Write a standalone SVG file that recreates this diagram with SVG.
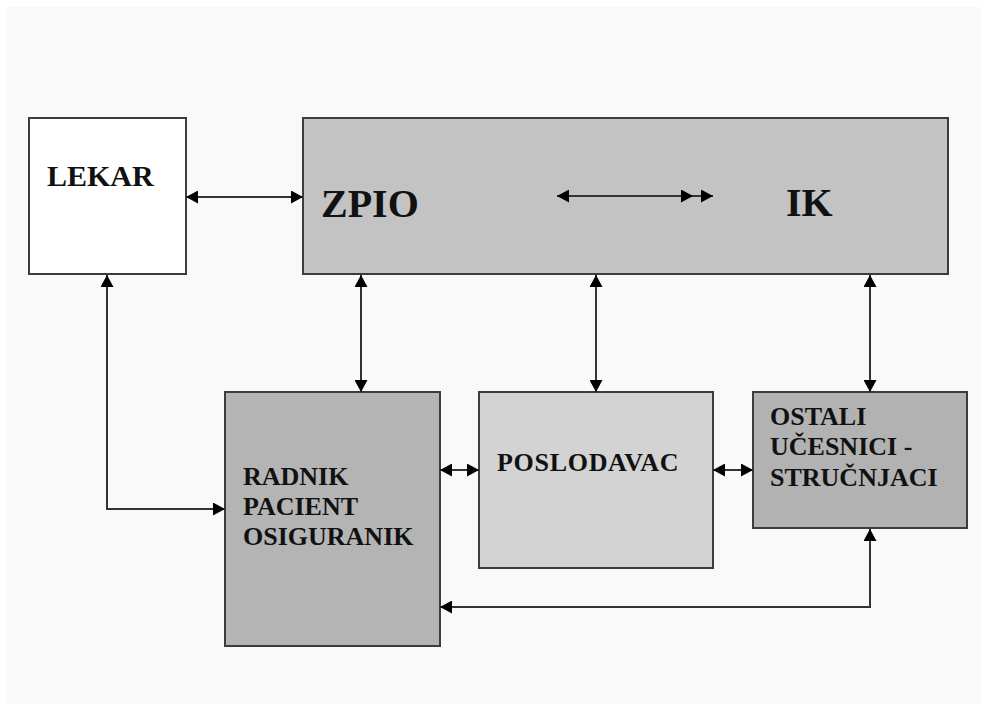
<svg xmlns="http://www.w3.org/2000/svg" width="981" height="704" viewBox="0 0 981 704">
<style>
.box{stroke:#3c3c3c;stroke-width:2}
.lbl{font-family:"Liberation Serif","Times New Roman",serif;font-weight:bold;fill:#111}
.con{fill:none;stroke:#333;stroke-width:2;marker-start:url(#ah);marker-end:url(#ah)}
</style>
<defs>
<marker id="ah" viewBox="0 0 12 13" markerWidth="12" markerHeight="13" refX="12" refY="6.5" orient="auto-start-reverse" markerUnits="userSpaceOnUse">
<path d="M0,0 L12,6.5 L0,13 z" fill="#000"/>
</marker>
</defs>
<rect x="0" y="0" width="981" height="704" fill="#fff"/>
<rect x="7" y="7" width="974" height="697" fill="#f9f9f9"/>
<g id="lekar">
<rect class="box" x="29" y="118" width="157" height="156" fill="#fff"/>
<text class="lbl" x="47" y="186" font-size="30">LEKAR</text>
</g>
<g id="zpio-ik">
<rect class="box" x="303" y="118" width="645" height="156" fill="#c3c3c3"/>
<text class="lbl" x="321" y="217" font-size="40">ZPIO</text>
<text class="lbl" x="786" y="216" font-size="40">IK</text>
</g>
<g id="radnik">
<rect class="box" x="225" y="392" width="215" height="254" fill="#b4b4b4"/>
<text class="lbl" x="243" y="485" font-size="26">RADNIK</text>
<text class="lbl" x="243" y="515" font-size="26">PACIENT</text>
<text class="lbl" x="243" y="545" font-size="26">OSIGURANIK</text>
</g>
<g id="poslodavac">
<rect class="box" x="479" y="392" width="234" height="176" fill="#d3d3d3"/>
<text class="lbl" x="497" y="471" font-size="26" letter-spacing="0.7">POSLODAVAC</text>
</g>
<g id="ostali">
<rect class="box" x="753" y="392" width="214" height="136" fill="#b2b2b2"/>
<text class="lbl" x="770" y="425" font-size="26">OSTALI</text>
<text class="lbl" x="770" y="455" font-size="26">UČESNICI -</text>
<text class="lbl" x="770" y="486" font-size="26">STRUČNJACI</text>
</g>
<g id="connectors">
<path class="con" d="M186,197 H303"/>
<path class="con" d="M557,196 H693 H713" style="marker-mid:url(#ah)"/>
<path class="con" d="M361,275 V392"/>
<path class="con" d="M596,275 V392"/>
<path class="con" d="M870,275 V392"/>
<path class="con" d="M440,470 H479"/>
<path class="con" d="M713,470 H753"/>
<path class="con" d="M107,275 V509 H225"/>
<path class="con" d="M440,607 H870 V529"/>
</g>
</svg>
